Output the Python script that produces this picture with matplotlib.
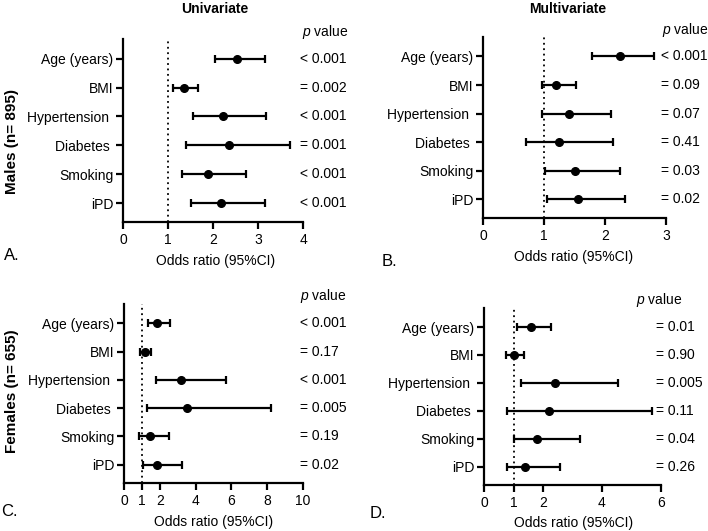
import matplotlib
matplotlib.use("Agg")
import matplotlib.pyplot as plt
import matplotlib.transforms as mtransforms

plt.rcParams['font.family'] = ['Liberation Sans', 'DejaVu Sans']
plt.rcParams['mathtext.fontset'] = 'custom'
plt.rcParams['mathtext.rm'] = 'Liberation Sans'
plt.rcParams['mathtext.it'] = 'Liberation Sans:italic'

variables = ["Age (years)", "BMI", "Hypertension ", "Diabetes ", "Smoking", "iPD"]

# Panel A: Males univariate
a_or = [2.53, 1.36, 2.22, 2.35, 1.89, 2.18]
a_lo = [2.05, 1.11, 1.56, 1.39, 1.31, 1.51]
a_hi = [3.15, 1.67, 3.18, 3.70, 2.74, 3.15]
a_p = ["< 0.001", "= 0.002", "< 0.001", "= 0.001", "< 0.001", "< 0.001"]
a_ticks = [0, 1, 2, 3, 4]

# Panel B: Males multivariate
b_or = [2.24, 1.20, 1.41, 1.25, 1.51, 1.55]
b_lo = [1.79, 0.96, 0.96, 0.71, 1.02, 1.05]
b_hi = [2.81, 1.52, 2.10, 2.13, 2.25, 2.32]
b_p = ["< 0.001", "= 0.09", "= 0.07", "= 0.41", "= 0.03", "= 0.02"]
b_ticks = [0, 1, 2, 3]

# Panel C: Females univariate
c_or = [1.82, 1.17, 3.18, 3.52, 1.43, 1.86]
c_lo = [1.34, 0.91, 1.81, 1.30, 0.82, 1.06]
c_hi = [2.55, 1.53, 5.68, 8.23, 2.53, 3.24]
c_p = ["< 0.001", "= 0.17", "< 0.001", "= 0.005", "= 0.19", "= 0.02"]
c_ticks = [0, 1, 2, 4, 6, 8, 10]

# Panel D: Females multivariate
d_or = [1.59, 1.02, 2.41, 2.21, 1.80, 1.40]
d_lo = [1.11, 0.76, 1.27, 0.77, 1.01, 0.77]
d_hi = [2.26, 1.34, 4.55, 5.69, 3.26, 2.56]
d_p = ["= 0.01", "= 0.90", "= 0.005", "= 0.11", "= 0.04", "= 0.26"]
d_ticks = [0, 1, 2, 4, 6]

W, H = 708, 531
fig = plt.figure(figsize=(W / 100, H / 100), dpi=100)


def ax_px(left, right, top, bottom):
    return fig.add_axes([left / W, (H - bottom) / H, (right - left) / W, (bottom - top) / H])


def ft(x, y, s, **kw):
    return fig.text(x / W, 1 - y / H, s, **kw)


FS = 10


def panel(box, orv, lo, hi, pv, ticks, px, phead):
    ax = ax_px(*box)
    y = list(range(len(variables)))
    xerr = [[o - l for o, l in zip(orv, lo)], [h - o for o, h in zip(orv, hi)]]
    ax.errorbar(orv, y, xerr=xerr, fmt='o', color='black', ms=5.5,
                elinewidth=1.6, capsize=3, capthick=1.6, zorder=3)
    ax.axvline(1, color='black', ls=(0, (1, 2)), lw=1.3, zorder=1)
    ax.set_xlim(ticks[0], ticks[-1])
    ax.set_ylim(5.65, -0.68)
    ax.set_xticks(ticks)
    ax.set_yticks(y)
    ax.set_yticklabels(variables)
    for s in ['top', 'right']:
        ax.spines[s].set_visible(False)
    for s in ['left', 'bottom']:
        ax.spines[s].set_linewidth(1.6)
    ax.tick_params(axis='both', width=1.6, length=5, labelsize=FS, pad=2)
    ax.tick_params(axis='x', pad=3)
    tr = mtransforms.blended_transform_factory(fig.transFigure, ax.transData)
    for yi, p in zip(y, pv):
        ax.text(px / W, yi, p, transform=tr, ha='left', va='center', fontsize=FS)
    ft(phead[0], phead[1], "$p$ value", ha='left', va='center', fontsize=FS)
    return ax


panel((123, 303, 39, 222), a_or, a_lo, a_hi, a_p, a_ticks, 300, (302, 32))
panel((483, 666, 37, 218), b_or, b_lo, b_hi, b_p, b_ticks, 661, (662, 30))
panel((124, 303, 304, 483), c_or, c_lo, c_hi, c_p, c_ticks, 300, (300, 296))
panel((484, 661, 308, 485), d_or, d_lo, d_hi, d_p, d_ticks, 656, (636, 300))

ft(215, 9, "Univariate", ha='center', va='center', fontsize=FS, fontweight='bold')
ft(568, 9, "Multivariate", ha='center', va='center', fontsize=FS, fontweight='bold')

ft(12, 142, "Males (n= 895)", ha='center', va='center', rotation=90, fontsize=11, fontweight='bold')
ft(12, 391, "Females (n= 655)", ha='center', va='center', rotation=90, fontsize=11, fontweight='bold')

ft(216, 261, "Odds ratio (95%CI)", ha='center', va='center', fontsize=FS)
ft(574, 257, "Odds ratio (95%CI)", ha='center', va='center', fontsize=FS)
ft(214, 522, "Odds ratio (95%CI)", ha='center', va='center', fontsize=FS)
ft(574, 523, "Odds ratio (95%CI)", ha='center', va='center', fontsize=FS)

ft(4, 255, "A.", ha='left', va='center', fontsize=12)
ft(382, 262, "B.", ha='left', va='center', fontsize=12)
ft(1, 512, "C.", ha='left', va='center', fontsize=12)
ft(370, 513, "D.", ha='left', va='center', fontsize=12)

fig.savefig("out.png", dpi=100)
